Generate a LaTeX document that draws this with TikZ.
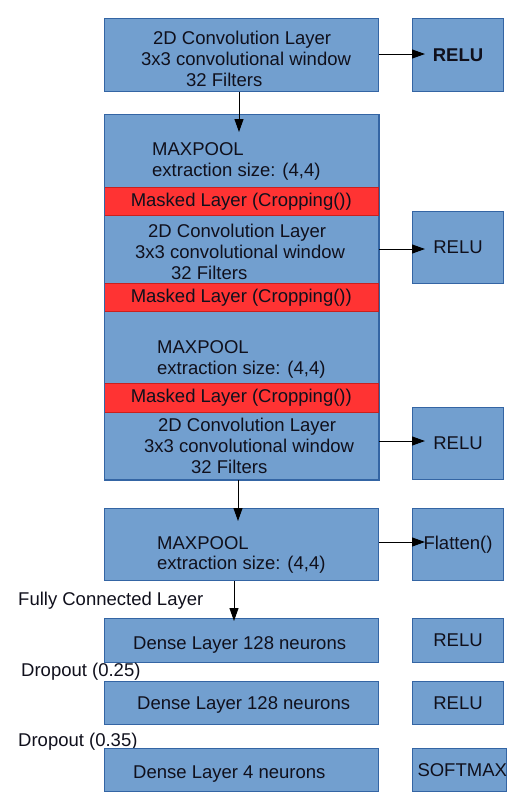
\documentclass[tikz,border=0pt]{standalone}
\usepackage{fontspec}
\setmainfont{Liberation Sans}
\usetikzlibrary{arrows.meta}
\definecolor{boxfill}{HTML}{729FCF}
\definecolor{boxline}{HTML}{3465A4}
\definecolor{maskfill}{HTML}{FF3333}
\definecolor{maskline}{HTML}{C9211E}
\definecolor{txtc}{HTML}{10101C}
\tikzset{
  fnt/.style={font=\fontsize{18.5}{21}\selectfont, text=txtc},
  box/.style={draw=boxline, fill=boxfill, line width=1pt, anchor=north west, inner sep=0pt, fnt},
  mask/.style={draw=maskline, fill=maskfill, line width=0.6pt, anchor=north west, inner sep=0pt, minimum width=274pt, fnt},
  txt/.style={inner sep=0pt, anchor=base west, fnt},
  arr/.style={-{Triangle[length=13pt,width=9pt]}, line width=1pt, draw=black}
}
\begin{document}
\begin{tikzpicture}[x=1pt,y=-1pt]
\useasboundingbox (0,0) rectangle (516,807);

% first conv block
\node[box, minimum width=274pt, minimum height=73pt] (c1) at (104,18) {};
\node[txt] (c1a) at (153,44.5) {2D Convolution Layer};
\node[txt] (c1b) at (141,65.5) {3x3 convolutional window};
\node[txt] (c1c) at (186,86) {32 Filters};
\node[box, minimum width=91pt, minimum height=73pt] (relu1) at (412,18) {\textbf{RELU}};

% big block
\node[box, minimum width=274pt, minimum height=365pt] (big) at (104,114) {};
\node[txt] (mp1a) at (152,155.5) {MAXPOOL};
\node[txt] (mp1b) at (152,176.5) {extraction size: (4,4)};
\node[mask, minimum height=28pt] (m1) at (104,187) {Masked Layer (Cropping())};
\node[txt] (c2a) at (148,237.5) {2D Convolution Layer};
\node[txt] (c2b) at (135,258.5) {3x3 convolutional window};
\node[txt] (c2c) at (171,279.5) {32 Filters};
\node[mask, minimum height=28pt] (m2) at (104,283) {Masked Layer (Cropping())};
\node[txt] (mp2a) at (157,353.5) {MAXPOOL};
\node[txt] (mp2b) at (157,374.5) {extraction size: (4,4)};
\node[mask, minimum height=29pt] (m3) at (104,383) {Masked Layer (Cropping())};
\node[txt] (c3a) at (158,431.5) {2D Convolution Layer};
\node[txt] (c3b) at (144,452.5) {3x3 convolutional window};
\node[txt] (c3c) at (191,473.5) {32 Filters};
\draw[boxline, line width=1pt] (big.north west) rectangle (big.south east);

\node[box, minimum width=91pt, minimum height=72pt] (relu2) at (412,211) {RELU};
\node[box, minimum width=91pt, minimum height=72pt] (relu3) at (412,407) {RELU};

% maxpool block
\node[box, minimum width=274pt, minimum height=72pt] (mp3) at (104,508) {};
\node[txt] (mp3a) at (157,549.5) {MAXPOOL};
\node[txt] (mp3b) at (157,569.5) {extraction size: (4,4)};
\node[box, minimum width=91pt, minimum height=72pt] (flat) at (412,508) {\raisebox{2pt}{Flatten()}};

% dense blocks
\node[txt] (fcl) at (18,605.5) {Fully Connected Layer};
\node[box, minimum width=274pt, minimum height=44pt] (d1) at (104,618) {};
\node[txt] (d1t) at (133,649.5) {Dense Layer 128 neurons};
\node[box, minimum width=91pt, minimum height=44pt] (relu4) at (412,618) {RELU};
\node[txt] (do1) at (21,676.5) {Dropout (0.25)};
\node[box, minimum width=274pt, minimum height=43pt] (d2) at (104,681) {};
\node[txt] (d2t) at (137,709.5) {Dense Layer 128 neurons};
\node[box, minimum width=91pt, minimum height=43pt] (relu5) at (412,681) {RELU};
\node[txt] (do2) at (18,746.5) {Dropout (0.35)};
\node[box, minimum width=274pt, minimum height=43pt] (d3) at (104,748) {};
\node[txt] (d3t) at (133,778.5) {Dense Layer 4 neurons};
\node[box, minimum width=91pt, minimum height=43pt] (soft) at (412,748) {\hspace*{5pt}SOFTMAX};

% connectors
\coordinate (t1) at (239,132);
\coordinate (t2) at (238,521);
\coordinate (t3) at (234,621);
\draw[arr] (c1.south -| t1) -- (t1);
\draw[arr] (big.south -| t2) -- (t2);
\draw[arr] (mp3.south -| t3) -- (t3);
\draw[arr] (c1.east |- 0,54) -- ([xshift=13pt]relu1.west |- 0,54);
\draw[arr] (big.east |- 0,249) -- ([xshift=13pt]relu2.west |- 0,249);
\draw[arr] (big.east |- 0,441) -- ([xshift=13pt]relu3.west |- 0,441);
\draw[arr] (mp3.east |- 0,542) -- ([xshift=13pt]flat.west |- 0,542);
\end{tikzpicture}
\end{document}
